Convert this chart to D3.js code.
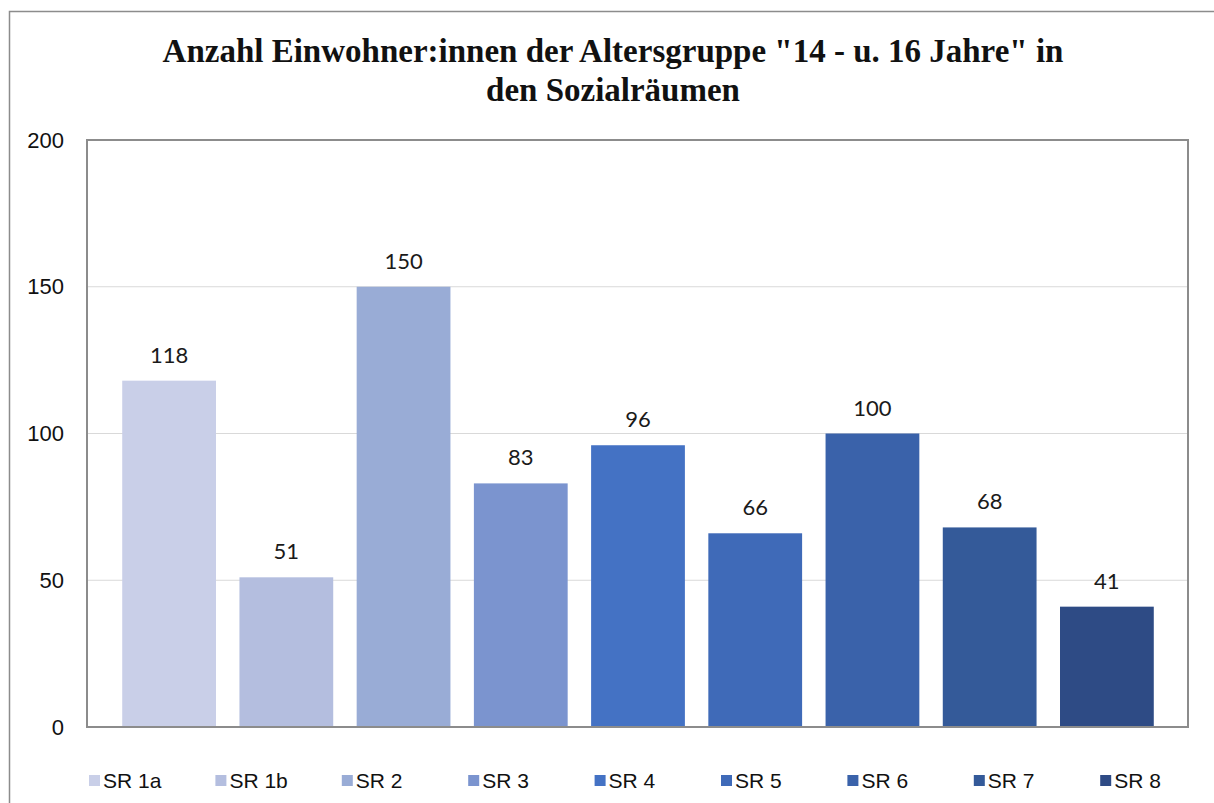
<!DOCTYPE html>
<html><head><meta charset="utf-8">
<script src="https://cdn.jsdelivr.net/npm/d3@7"></script>
<style>body{margin:0;background:#fff}svg{display:block}</style>
</head><body>
<svg id="c" width="1214" height="803"></svg>
<script>
const categories = ["SR 1a","SR 1b","SR 2","SR 3","SR 4","SR 5","SR 6","SR 7","SR 8"];
const values = [118,51,150,83,96,66,100,68,41];
const colors = ["#C9CFE8","#B4BEDF","#99ACD6","#7B94CF","#4472C4","#3F6AB8","#3A62AA","#345A99","#2E4B85"];
const yTicks = [0,50,100,150,200];
const titleLines = ['Anzahl Einwohner:innen der Altersgruppe "14 - u. 16 Jahre" in','den Sozialräumen'];

const svg = d3.select("#c");
// outer frame
svg.append("rect").attr("x",9.5).attr("y",11.5).attr("width",1220).attr("height",820)
  .attr("fill","none").attr("stroke","#8c8c8c").attr("stroke-width",1.5);

const plot = {l:87,r:1188,t:140,b:727};
const x = d3.scaleBand().domain(categories).range([110.5,1165.5]).paddingInner(0.2).paddingOuter(0.1);
const y = d3.scaleLinear().domain([0,200]).range([plot.b,plot.t]);

// gridlines
svg.append("g").selectAll("line").data(yTicks).join("line")
  .attr("x1",plot.l).attr("x2",plot.r).attr("y1",d=>y(d)).attr("y2",d=>y(d))
  .attr("stroke","#d9d9d9").attr("stroke-width",1);

// axis labels
const yAxis = d3.axisLeft(y).tickValues(yTicks).tickSize(0).tickPadding(0);
const ga = svg.append("g").attr("transform","translate(64,0)").call(yAxis);
ga.select(".domain").remove();
ga.selectAll("text").attr("font-family","'Liberation Sans',Arial,sans-serif").attr("font-size",22).attr("fill","#111");

// bars
svg.append("g").selectAll("rect").data(values).join("rect")
  .attr("x",(d,i)=>x(categories[i])).attr("width",x.bandwidth())
  .attr("y",d=>y(d)).attr("height",d=>y(0)-y(d)).attr("fill",(d,i)=>colors[i]);

// value labels
svg.append("g").selectAll("text").data(values).join("text")
  .attr("x",(d,i)=>x(categories[i])+x.bandwidth()/2).attr("y",d=>y(d)-18)
  .attr("text-anchor","middle").attr("font-family","Lato,'Open Sans',sans-serif").attr("font-size",22)
  .attr("fill","#1a1a1a").text(d=>d);

// plot border
svg.append("rect").attr("x",plot.l).attr("y",plot.t).attr("width",plot.r-plot.l).attr("height",plot.b-plot.t)
  .attr("fill","none").attr("stroke","#8c8c8c").attr("stroke-width",2);

// title
svg.append("text").attr("x",613).attr("y",62).attr("text-anchor","middle")
  .attr("font-family","'Liberation Serif','DejaVu Serif',serif").attr("font-weight","bold").attr("font-size",33)
  .attr("fill","#111")
  .selectAll("tspan").data(titleLines).join("tspan").attr("x",613).attr("dy",(d,i)=>i?39:0).text(d=>d);

// legend
const lg = svg.append("g").selectAll("g").data(categories).join("g")
  .attr("transform",(d,i)=>`translate(${89+i*126.4},0)`);
lg.append("rect").attr("x",0).attr("y",775).attr("width",11).attr("height",11).attr("fill",(d,i)=>colors[i]);
lg.append("text").attr("x",14).attr("y",788).attr("font-family","'Liberation Sans',Arial,sans-serif")
  .attr("font-size",21).attr("fill","#111").text(d=>d);
</script>
</body></html>
